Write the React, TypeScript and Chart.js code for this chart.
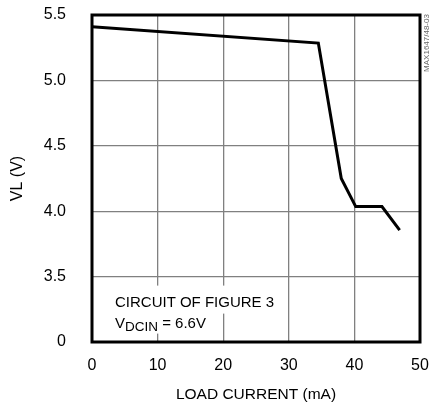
import React, { useEffect, useRef } from "react";
import { Chart, registerables } from "chart.js";

Chart.register(...registerables);

const loadCurrent = [0, 34.5, 38.0, 40.2, 44.2, 46.9];
const vlVolts = [5.41, 5.285, 4.25, 4.035, 4.035, 3.855];
const xTicks = [0, 10, 20, 30, 40, 50];
const yTicks = [3.0, 3.5, 4.0, 4.5, 5.0, 5.5];
const yTickLabels = ["0", "3.5", "4.0", "4.5", "5.0", "5.5"];
const noteLine1 = "CIRCUIT OF FIGURE 3";
const noteMain = "V";
const noteSub = "DCIN";
const noteRest = " = 6.6V";
const sideCode = "MAX1647/48-03";

const FONT = "'Liberation Sans', Arial, sans-serif";

const overlay = {
  id: "overlay",
  beforeDatasetsDraw(chart: any) {
    const { ctx, scales } = chart;
    const x = scales.x;
    const y = scales.y;
    const left = x.getPixelForValue(3.5);
    const base1 = y.getPixelForValue(3.5) + 30;
    ctx.save();
    ctx.font = `15px ${FONT}`;
    const w1 = ctx.measureText(noteLine1).width;
    const wV = ctx.measureText(noteMain).width;
    const wR = ctx.measureText(noteRest).width;
    ctx.font = `13.5px ${FONT}`;
    const wS = ctx.measureText(noteSub).width;
    ctx.fillStyle = "#fff";
    ctx.fillRect(left - 3, base1 - 21, w1 + 6, 28);
    ctx.fillRect(left - 3, base1 + 4, wV + wS + wR + 6, 23);
    ctx.fillStyle = "#000";
    ctx.textBaseline = "alphabetic";
    ctx.textAlign = "left";
    ctx.font = `15px ${FONT}`;
    ctx.fillText(noteLine1, left, base1);
    const base2 = base1 + 21;
    ctx.fillText(noteMain, left, base2);
    ctx.font = `13.5px ${FONT}`;
    ctx.fillText(noteSub, left + wV, base2 + 3);
    ctx.font = `15px ${FONT}`;
    ctx.fillText(noteRest, left + wV + wS, base2);
    ctx.restore();
  },
  afterDatasetsDraw(chart: any) {
    const { ctx, chartArea } = chart;
    ctx.save();
    ctx.strokeStyle = "#000";
    ctx.lineWidth = 3;
    ctx.strokeRect(chartArea.left, chartArea.top, chartArea.right - chartArea.left, chartArea.bottom - chartArea.top);
    ctx.translate(chartArea.right + 7, chartArea.top + 28);
    ctx.rotate(-Math.PI / 2);
    ctx.font = `8px ${FONT}`;
    ctx.fillStyle = "#666";
    ctx.textAlign = "center";
    ctx.textBaseline = "middle";
    ctx.fillText(sideCode, 0, 0);
    ctx.restore();
  },
};

export default function App() {
  const ref = useRef<HTMLCanvasElement>(null);
  useEffect(() => {
    if (!ref.current) return;
    const chart = new Chart(ref.current, {
      type: "line",
      data: {
        datasets: [
          {
            data: loadCurrent.map((v, i) => ({ x: v, y: vlVolts[i] })),
            borderColor: "#000",
            borderWidth: 3,
            pointRadius: 0,
            tension: 0,
            fill: false,
          },
        ],
      },
      options: {
        responsive: false,
        animation: false,
        layout: { padding: { top: 15, right: 12, left: 0, bottom: 0 } },
        plugins: { legend: { display: false }, tooltip: { enabled: false } },
        scales: {
          x: {
            type: "linear",
            min: 0,
            max: 50,
            afterBuildTicks: (s: any) => {
              s.ticks = xTicks.map((v) => ({ value: v }));
            },
            afterFit: (s: any) => {
              s.height = 62;
            },
            ticks: { color: "#000", font: { family: FONT, size: 16 }, padding: 0, maxRotation: 0 },
            grid: {
              color: (c: any) => (c.tick && (c.tick.value === 0 || c.tick.value === 50) ? "rgba(0,0,0,0)" : "#808080"),
              lineWidth: 1.3,
              drawTicks: true,
              tickLength: 14,
              tickColor: "rgba(0,0,0,0)",
            },
            border: { display: false },
            title: {
              display: true,
              text: "LOAD CURRENT (mA)",
              color: "#000",
              font: { family: FONT, size: 15.5 },
              padding: { top: 4, bottom: 0 },
            },
          },
          y: {
            type: "linear",
            min: 3,
            max: 5.5,
            afterBuildTicks: (s: any) => {
              s.ticks = yTicks.map((v) => ({ value: v }));
            },
            afterFit: (s: any) => {
              s.width = 92;
            },
            ticks: {
              color: "#000",
              font: { family: FONT, size: 16 },
              padding: 0,
              callback: (v: any) => {
                const i = yTicks.indexOf(Number(v));
                return i >= 0 ? yTickLabels[i] : "";
              },
            },
            grid: {
              color: (c: any) => (c.tick && (c.tick.value === 3 || c.tick.value === 5.5) ? "rgba(0,0,0,0)" : "#808080"),
              lineWidth: 1.3,
              drawTicks: true,
              tickLength: 26,
              tickColor: "rgba(0,0,0,0)",
            },
            border: { display: false },
            title: {
              display: true,
              text: "VL (V)",
              color: "#000",
              font: { family: FONT, size: 16 },
              padding: { top: 8, bottom: 0 },
            },
          },
        },
      },
      plugins: [overlay],
    });
    return () => chart.destroy();
  }, []);
  return (
    <canvas
      ref={ref}
      width={432}
      height={404}
      style={{ position: "absolute", left: 0, top: 0, display: "block" }}
    />
  );
}
